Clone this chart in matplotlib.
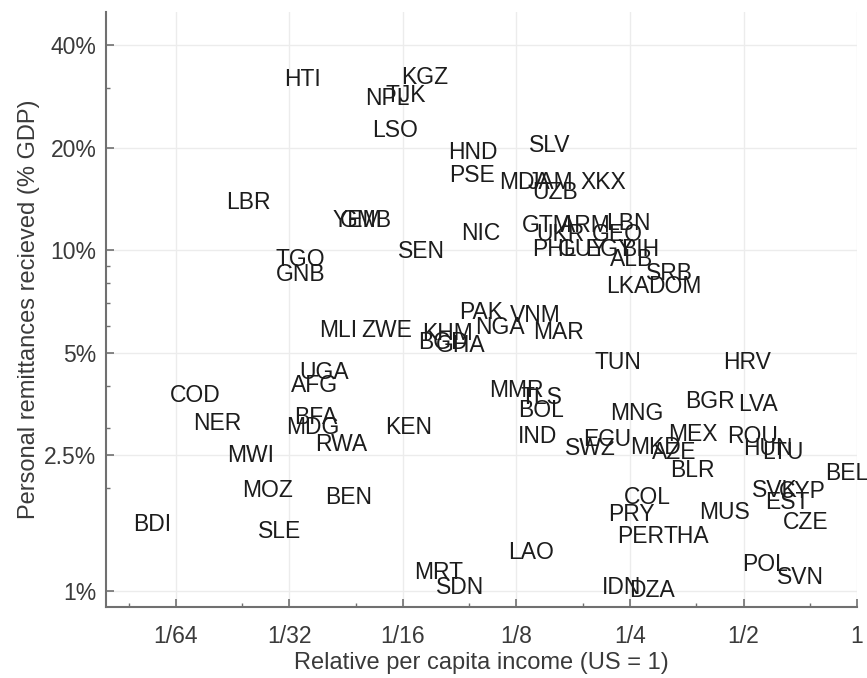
import matplotlib
matplotlib.use("Agg")
import matplotlib.pyplot as plt
from matplotlib.ticker import FixedLocator, NullFormatter

plt.rcParams['font.family'] = ['Liberation Sans', 'DejaVu Sans']

# country codes, relative income (US = 1), remittances (% GDP)
codes = ["HTI", "KGZ", "NPL", "TJK", "LSO", "LBR", "YEM", "GMB", "SEN", "TGO",
         "GNB", "HND", "SLV", "PSE", "MDA", "JAM", "UZB", "XKX", "NIC", "GTM",
         "ARM", "LBN", "UKR", "GEO", "PHL", "GUY", "EGY", "BIH", "ALB", "SRB",
         "LKA", "DOM", "PAK", "VNM", "NGA", "MAR", "MLI", "ZWE", "KHM", "BGD",
         "GHA", "UGA", "AFG", "MMR", "TLS", "BOL", "IND", "BFA", "MDG", "KEN",
         "RWA", "COD", "NER", "MWI", "MOZ", "BEN", "BDI", "SLE", "MRT", "SDN",
         "LAO", "IDN", "DZA", "PRY", "PER", "THA", "MUS", "CZE", "POL", "SVN",
         "TUN", "HRV", "BGR", "LVA", "MNG", "ECU", "SWZ", "MKD", "AZE", "MEX",
         "ROU", "HUN", "LTU", "BLR", "BEL", "SVK", "CYP", "EST", "COL"]
income = [0.0339, 0.0715, 0.0567, 0.0636, 0.0596, 0.0243, 0.0472, 0.0499, 0.0702, 0.0333,
          0.0335, 0.0959, 0.153, 0.0953, 0.131, 0.154, 0.158, 0.212, 0.1006, 0.151,
          0.190, 0.247, 0.163, 0.231, 0.158, 0.1875, 0.221, 0.266, 0.253, 0.319,
          0.247, 0.329, 0.1006, 0.140, 0.113, 0.162, 0.0420, 0.0567, 0.0822, 0.0798,
          0.0891, 0.0386, 0.0365, 0.1247, 0.146, 0.145, 0.142, 0.0367, 0.0361, 0.0648,
          0.0428, 0.01755, 0.0201, 0.0246, 0.0274, 0.0449, 0.0135, 0.0295, 0.0779, 0.0885,
          0.137, 0.237, 0.286, 0.2515, 0.266, 0.352, 0.444, 0.732, 0.570, 0.706,
          0.232, 0.511, 0.408, 0.546, 0.261, 0.218, 0.196, 0.293, 0.327, 0.367,
          0.527, 0.581, 0.636, 0.365, 0.94, 0.606, 0.715, 0.652, 0.278]
remit = [31.6, 32.2, 27.9, 28.5, 22.5, 13.8, 12.25, 12.25, 9.87, 9.35,
         8.50, 19.4, 20.3, 16.6, 15.8, 15.8, 14.8, 15.8, 11.2, 11.8,
         11.8, 12.0, 11.1, 11.1, 10.07, 10.07, 10.07, 10.07, 9.41, 8.56,
         7.79, 7.79, 6.57, 6.44, 5.94, 5.74, 5.82, 5.82, 5.70, 5.37,
         5.26, 4.38, 4.01, 3.88, 3.70, 3.39, 2.83, 3.23, 3.02, 3.02,
         2.68, 3.75, 3.10, 2.50, 1.97, 1.88, 1.56, 1.49, 1.13, 1.02,
         1.29, 1.02, 1.00, 1.67, 1.44, 1.44, 1.69, 1.58, 1.19, 1.09,
         4.66, 4.66, 3.58, 3.51, 3.32, 2.77, 2.62, 2.64, 2.55, 2.87,
         2.83, 2.62, 2.55, 2.26, 2.21, 1.97, 1.95, 1.81, 1.88]

xticks = [1/64, 1/32, 1/16, 1/8, 1/4, 1/2, 1]
xticklabels = ["1/64", "1/32", "1/16", "1/8", "1/4", "1/2", "1"]
yticks = [1, 2.5, 5, 10, 20, 40]
yticklabels = ["1%", "2.5%", "5%", "10%", "20%", "40%"]
xminor = [3/256, 3/128, 3/64, 3/32, 3/16, 3/8, 3/4]
yminor = [2, 3, 4, 6, 7, 8, 9, 30]

fig = plt.figure(figsize=(8.67, 6.78), dpi=100)
ax = fig.add_axes([0.1223, 0.1047, 0.8662, 0.8776])

ax.set_xscale('log', base=2)
ax.set_yscale('log')
ax.set_xlim(0.0102, 1.0)
ax.set_ylim(0.895, 50)

# labels only, no markers
ax.scatter(income, remit, s=0)
for c, xv, yv in zip(codes, income, remit):
    ax.text(xv, yv, c, ha='center', va='center', fontsize=16.5,
            color='#1c1c1c', clip_on=False)

ax.xaxis.set_major_locator(FixedLocator(xticks))
ax.set_xticklabels(xticklabels)
ax.xaxis.set_minor_locator(FixedLocator(xminor))
ax.xaxis.set_minor_formatter(NullFormatter())
ax.yaxis.set_major_locator(FixedLocator(yticks))
ax.set_yticklabels(yticklabels)
ax.yaxis.set_minor_locator(FixedLocator(yminor))
ax.yaxis.set_minor_formatter(NullFormatter())

ax.grid(True, which='major', color='#ececec', lw=1.0)
ax.set_axisbelow(True)
for s in ['top', 'right']:
    ax.spines[s].set_visible(False)
for s in ['left', 'bottom']:
    ax.spines[s].set_color('#707070')
    ax.spines[s].set_linewidth(1.5)

ax.tick_params(which='major', direction='in', length=6, width=1.2,
               colors='#707070', labelcolor='#3a3a3a', labelsize=16.5)
ax.tick_params(axis='x', which='major', pad=13)
ax.tick_params(axis='y', which='major', pad=7)
ax.tick_params(which='minor', direction='in', length=3, width=1,
               colors='#707070')

ax.set_xlabel("Relative per capita income (US = 1)", fontsize=17,
              color='#3a3a3a', labelpad=3)
ax.set_ylabel("Personal remittances recieved (% GDP)", fontsize=17,
              color='#3a3a3a', labelpad=3)

fig.savefig("out.png", dpi=100)
